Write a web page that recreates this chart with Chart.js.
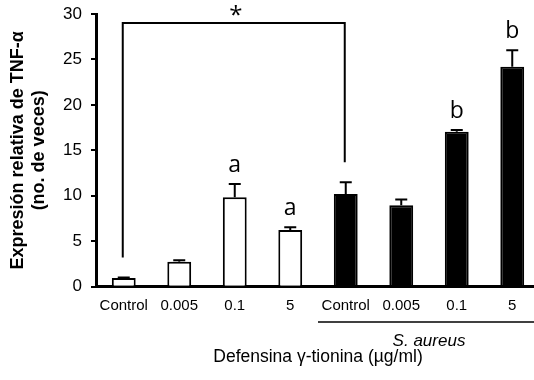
<!DOCTYPE html>
<html>
<head>
<meta charset="utf-8">
<script src="https://cdn.jsdelivr.net/npm/chart.js@4"></script>
<style>
    html, body { margin: 0; padding: 0; background: #fff; overflow: hidden; }
    #wrap { width: 540px; height: 380px; }
</style>
</head>
<body>
<div id="wrap"><canvas id="tnfChart" width="540" height="380"></canvas></div>
<script>
const categories = ['Control', '0.005', '0.1', '5', 'Control', '0.005', '0.1', '5'];
const means = [0.95, 2.75, 9.85, 6.25, 10.2, 8.95, 17.05, 24.2];
const errors = [0.05, 0.15, 1.45, 0.3, 1.3, 0.65, 0.2, 1.8];
const letters = ['', '', 'a', 'a', '', '', 'b', 'b'];
const fills = ['#ffffff', '#ffffff', '#ffffff', '#ffffff', '#000000', '#000000', '#000000', '#000000'];
const yTicks = [0, 5, 10, 15, 20, 25, 30];
const bracketPair = [0, 4];
const bracketTop = 29;
const infectedGroup = [4, 7];

const FONT = "'Liberation Sans', Arial, sans-serif";

const annotations = {
    id: 'annotations',
    afterDatasetsDraw(chart) {
        const ctx = chart.ctx;
        const x = chart.scales.x;
        const y = chart.scales.y;
        ctx.save();
        ctx.strokeStyle = '#000';
        ctx.fillStyle = '#000';
        ctx.lineWidth = 2;

        // error bars (upper only)
        means.forEach((m, i) => {
            const cx = x.getPixelForValue(i);
            const y0 = y.getPixelForValue(m);
            const y1 = y.getPixelForValue(m + errors[i]);
            ctx.beginPath();
            ctx.moveTo(cx, y0);
            ctx.lineTo(cx, y1);
            ctx.moveTo(cx - 6, y1);
            ctx.lineTo(cx + 6, y1);
            ctx.stroke();

            if (letters[i]) {
                ctx.font = "23px 'Open Sans', sans-serif";
                ctx.textAlign = 'center';
                ctx.textBaseline = 'alphabetic';
                ctx.fillText(letters[i], cx, y1 - 12);
            }
        });

        // significance bracket
        const [a, b] = bracketPair;
        const xa = x.getPixelForValue(a) - 1;
        const xb = x.getPixelForValue(b) - 1;
        const top = y.getPixelForValue(bracketTop);
        const ya = y.getPixelForValue(means[a] + errors[a]) - 20;
        const yb = y.getPixelForValue(means[b] + errors[b]) - 20;
        ctx.beginPath();
        ctx.moveTo(xa, ya);
        ctx.lineTo(xa, top);
        ctx.lineTo(xb, top);
        ctx.lineTo(xb, yb);
        ctx.stroke();
        ctx.font = "24px 'Open Sans', sans-serif";
        ctx.textAlign = 'center';
        ctx.textBaseline = 'middle';
        ctx.fillText('*', (xa + xb) / 2 + 2, top - 7);
        ctx.restore();
    },
    afterDraw(chart) {
        const ctx = chart.ctx;
        const x = chart.scales.x;
        const step = x.getPixelForValue(1) - x.getPixelForValue(0);
        const left = x.getPixelForValue(infectedGroup[0]) - step / 2;
        const right = x.getPixelForValue(infectedGroup[1]) + step / 2;
        ctx.save();
        ctx.strokeStyle = '#000';
        ctx.lineWidth = 1.5;
        ctx.beginPath();
        ctx.moveTo(left, 322);
        ctx.lineTo(right, 322);
        ctx.stroke();
        ctx.fillStyle = '#000';
        ctx.font = 'italic 17px ' + FONT;
        ctx.textAlign = 'center';
        ctx.textBaseline = 'middle';
        ctx.fillText('S. aureus', (left + right) / 2, 341);
        ctx.restore();
    }
};

new Chart(document.getElementById('tnfChart'), {
    type: 'bar',
    data: {
        labels: categories,
        datasets: [{
            data: means,
            backgroundColor: fills,
            borderColor: '#000',
            borderWidth: 2,
            barPercentage: 0.43,
            categoryPercentage: 1.0
        }]
    },
    options: {
        responsive: false,
        animation: false,
        events: [],
        layout: { padding: { top: 14, right: 0, bottom: 0, left: 0 } },
        plugins: {
            legend: { display: false },
            tooltip: { enabled: false }
        },
        scales: {
            x: {
                offset: true,
                grid: { display: false, drawTicks: false },
                border: { color: '#000', width: 3 },
                ticks: { color: '#000', padding: 10, font: { family: FONT, size: 15 }, maxRotation: 0, autoSkip: false },
                title: {
                    display: true,
                    text: 'Defensina γ-tionina (µg/ml)',
                    color: '#000',
                    font: { family: FONT, size: 17.5 },
                    padding: { top: 0, bottom: 12 }
                },
                afterFit(scale) { scale.height = 93.3; }
            },
            y: {
                min: 0,
                max: 30,
                afterBuildTicks(scale) { scale.ticks = yTicks.map(v => ({ value: v })); },
                grid: { drawOnChartArea: false, drawTicks: true, tickLength: 5, color: '#000', lineWidth: 2 },
                border: { color: '#000', width: 3 },
                ticks: { color: '#000', padding: 9, font: { family: FONT, size: 17 } },
                title: {
                    display: true,
                    text: ['Expresión relativa de TNF-α', '(no. de veces)'],
                    color: '#000',
                    font: { family: FONT, size: 18, weight: 'bold', lineHeight: 1.2 },
                    padding: { top: 7, bottom: 0 }
                },
                afterFit(scale) {
                    scale.width = 96;
                    scale.paddingTop = 0;
                    scale.paddingBottom = 0;
                }
            }
        }
    },
    plugins: [annotations]
});
</script>
</body>
</html>
